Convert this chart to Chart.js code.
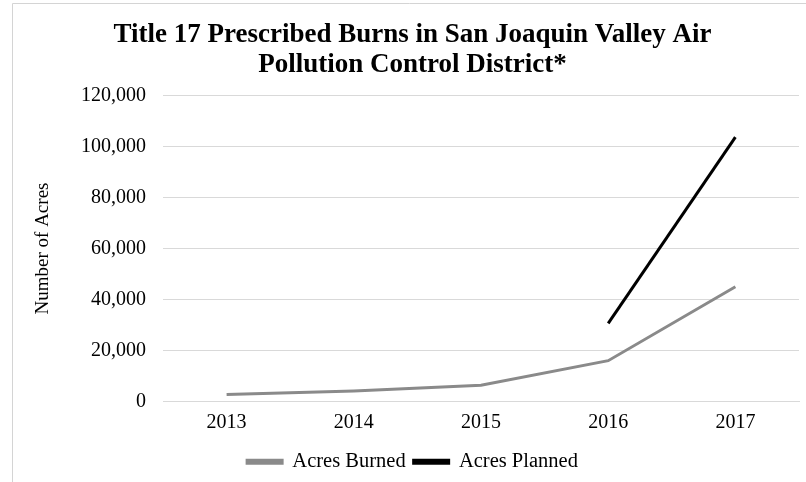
<!DOCTYPE html>
<html>
<head>
<meta charset="utf-8">
<script src="https://cdn.jsdelivr.net/npm/chart.js@4"></script>
<style>
  html, body { margin: 0; padding: 0; background: #fff; }
  #wrap { width: 806px; height: 482px; position: relative; }
</style>
</head>
<body>
<div id="wrap"><canvas id="c" width="806" height="482"></canvas></div>
<script>
const years = ['2013', '2014', '2015', '2016', '2017'];
const acresBurned = [2700, 4100, 6400, 16000, 45000];
const acresPlanned = [null, null, null, 30600, 103700];
const titleLines = ['Title 17 Prescribed Burns in San Joaquin Valley Air', 'Pollution Control District*'];
const yAxisTitle = 'Number of Acres';
const seriesNames = ['Acres Burned', 'Acres Planned'];

const SERIF = '"Liberation Serif", "Times New Roman", Times, serif';

const framePlugin = {
  id: 'frame',
  beforeDraw(chart) {
    const ctx = chart.ctx;
    ctx.save();
    ctx.fillStyle = '#ffffff';
    ctx.fillRect(0, 0, chart.width, chart.height);
    ctx.strokeStyle = '#d4d4d4';
    ctx.lineWidth = 1;
    ctx.beginPath();
    ctx.moveTo(12.5, chart.height + 2);
    ctx.lineTo(12.5, 3.5);
    ctx.lineTo(chart.width + 2, 3.5);
    ctx.stroke();
    ctx.restore();
  }
};

new Chart(document.getElementById('c'), {
  type: 'line',
  data: {
    labels: years,
    datasets: [
      {
        label: seriesNames[0],
        data: acresBurned,
        borderColor: '#8a8a8a',
        backgroundColor: '#8a8a8a',
        borderWidth: 3,
        pointRadius: 0,
        tension: 0,
        fill: false
      },
      {
        label: seriesNames[1],
        data: acresPlanned,
        borderColor: '#000000',
        backgroundColor: '#000000',
        borderWidth: 3,
        pointRadius: 0,
        tension: 0,
        fill: false,
        spanGaps: false
      }
    ]
  },
  options: {
    responsive: false,
    animation: false,
    devicePixelRatio: 1,
    layout: { padding: { left: 26, right: 7, top: 0, bottom: 0 } },
    plugins: {
      title: {
        display: true,
        text: titleLines,
        color: '#000',
        font: { family: SERIF, size: 27, weight: 'bold', lineHeight: 1.12 },
        padding: { top: 20, bottom: 15 }
      },
      legend: {
        position: 'bottom',
        labels: {
          color: '#000',
          font: { family: SERIF, size: 20.5 },
          boxWidth: 35,
          boxHeight: 3,
          padding: 8
        }
      },
      tooltip: { enabled: false }
    },
    scales: {
      x: {
        offset: true,
        grid: { display: false, drawTicks: false },
        border: { display: true, color: '#d9d9d9', width: 1 },
        ticks: {
          color: '#000',
          font: { family: SERIF, size: 20 },
          padding: 9,
          maxRotation: 0
        }
      },
      y: {
        min: 0,
        max: 120000,
        grid: { color: '#d9d9d9', drawTicks: false, lineWidth: 1 },
        border: { display: false },
        ticks: {
          stepSize: 20000,
          color: '#000',
          font: { family: SERIF, size: 20 },
          padding: 17,
          callback: (v) => v.toLocaleString('en-US')
        },
        title: {
          display: true,
          text: yAxisTitle,
          color: '#000',
          font: { family: SERIF, size: 19 },
          padding: { top: 6, bottom: 0 }
        },
        afterFit(scale) { scale.width = 163 - 26; }
      }
    }
  },
  plugins: [framePlugin]
});
</script>
</body>
</html>
